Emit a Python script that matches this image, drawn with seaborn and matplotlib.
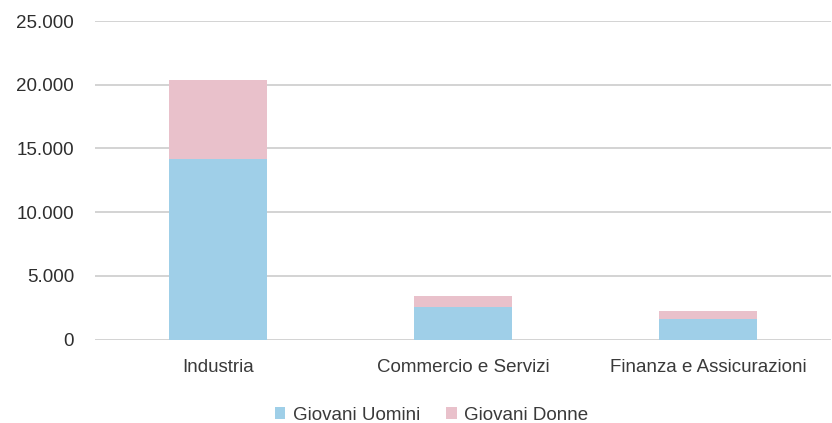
import matplotlib
matplotlib.use("Agg")
import matplotlib.pyplot as plt
import matplotlib.ticker as mticker
from matplotlib.patches import Patch
import numpy as np
import pandas as pd
import seaborn as sns

# Data
settori = ["Industria", "Commercio e Servizi", "Finanza e Assicurazioni"]
giovani_uomini = [14150, 2530, 1630]
giovani_donne = [6180, 910, 580]
y_ticks = [0, 5000, 10000, 15000, 20000, 25000]

col_uomini = "#9fcfe8"
col_donne = "#e9c1cb"
txt_col = "#3a3a3a"
grid_col = "#d3d3d3"

sns.set_theme(style="white")
plt.rcParams["font.family"] = ["Liberation Sans", "DejaVu Sans"]

df = pd.DataFrame({
    "settore": settori,
    "uomini": giovani_uomini,
    "donne": giovani_donne,
})
df["totale"] = df["uomini"] + df["donne"]

fig = plt.figure(figsize=(8.32, 4.23), dpi=100)
ax = fig.add_axes([95 / 832, 83.5 / 423, (831 - 95) / 832, (339.5 - 21) / 423])

# Stacked bars: full height in pink, lower segment in blue on top
sns.barplot(data=df, x="settore", y="totale", color=col_donne, width=0.4,
            saturation=1, linewidth=0, ax=ax, zorder=3)
sns.barplot(data=df, x="settore", y="uomini", color=col_uomini, width=0.4,
            saturation=1, linewidth=0, ax=ax, zorder=4)

ax.set_ylim(0, 25000)
ax.set_xlim(-0.5, 2.5)
ax.set_yticks(y_ticks)
ax.yaxis.set_major_formatter(
    mticker.FuncFormatter(lambda v, p: f"{int(v):,}".replace(",", "."))
)
ax.grid(axis="y", color=grid_col, linewidth=1.4, zorder=0)
ax.grid(axis="x", visible=False)
for s in ax.spines.values():
    s.set_visible(False)

ax.set_xlabel("")
ax.set_ylabel("")
ax.tick_params(axis="y", length=0, pad=15, labelsize=13.5, labelcolor="#2e2e2e")
ax.tick_params(axis="x", length=0, pad=14, labelsize=13.5, labelcolor=txt_col)

handles = [Patch(facecolor=col_uomini, edgecolor="none", label="Giovani Uomini"),
           Patch(facecolor=col_donne, edgecolor="none", label="Giovani Donne")]
leg = fig.legend(handles=handles, loc="center", bbox_to_anchor=(431.5 / 832, 1 - 415 / 423),
                 ncol=2, frameon=False, fontsize=13.5, handlelength=0.55,
                 handleheight=0.55, handletextpad=0.4, columnspacing=1.4)
for t in leg.get_texts():
    t.set_color(txt_col)

fig.savefig("out.png", dpi=100)
